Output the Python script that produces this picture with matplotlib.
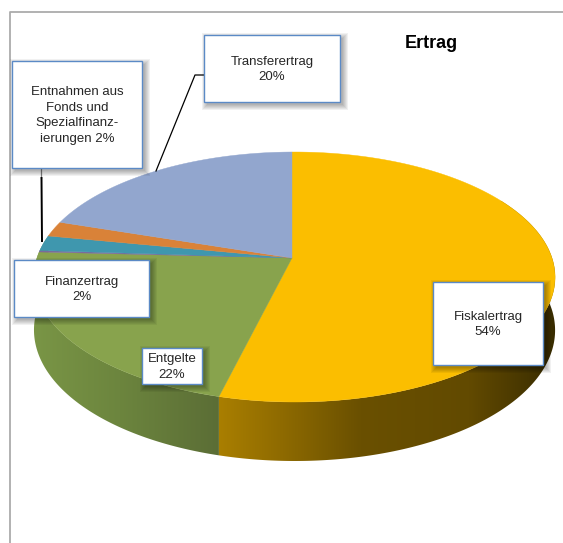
"""Ertrag - 3D-Kuchen, perspektivisch von Hand gezeichnet."""
import numpy as np
import matplotlib
matplotlib.use('Agg')
import matplotlib.pyplot as plt
from matplotlib.colors import LinearSegmentedColormap
from matplotlib.patches import Polygon, Rectangle

plt.rcParams['font.family'] = ['Liberation Sans', 'DejaVu Sans']

KATEGORIEN = ["Fiskalertrag", "Entgelte", "Sonstige", "Finanzertrag", "Entnahmen", "Transferertrag"]
WERTE = [53.9, 21.9, 0.2, 2.0, 2.0, 20.0]
FARBEN = ["#FBBE00", "#88A34D", "#7A6A9C", "#3F97AE", "#D98238", "#92A6CE"]

# Seitenflaechen: Position in Pixel / Farbe
GRUEN_X = [30, 120, 225]
GRUEN_C = ["#7A9646", "#6C853E", "#5A6C35"]
GELB_X = [208, 280, 360, 470, 530, 560]
GELB_C = ["#AE8200", "#8F6B00", "#6A5000", "#624A00", "#453500", "#352A00"]

TITEL = "Ertrag"
BOXEN = [
    ("Entnahmen aus\nFonds und\nSpezialfinanz-\nierungen 2%", 12, 61, 142, 168),
    ("Transferertrag\n20%", 204, 35, 340, 102),
    ("Finanzertrag\n2%", 14, 260, 149, 317),
    ("Entgelte\n22%", 142, 348, 202, 384),
    ("Fiskalertrag\n54%", 433, 282, 543, 365),
]

# Perspektive: Mitte und Ausdehnung in Pixel
CX, CY, A, B, K, M = 292, 258, 257.5, 122.1, 0.152, -0.0096


def punkte(w0, w1, tiefe=False):
    """Randpunkte zwischen w0 und w1 (Grad im Uhrzeigersinn ab oben)."""
    t = np.radians(np.linspace(w0, w1, 200))
    u, v = np.sin(t), np.cos(t)
    n = 1 + K * v + M * u
    x = CX + A * u / n
    y = CY - B * v / n
    if tiefe:
        y = y + 52 + 7 * np.clip(-v, 0, 1)
    return np.column_stack([x, y])


def seite(ax, w0, w1, xs, cols):
    oben = punkte(w0, w1)
    unten = punkte(w0, w1, True)
    poly = Polygon(np.vstack([oben, unten[::-1]]), closed=True, fc="none", ec="none")
    ax.add_patch(poly)
    pos = [(x - xs[0]) / (xs[-1] - xs[0]) for x in xs]
    cm = LinearSegmentedColormap.from_list("s", list(zip(pos, cols)))
    im = ax.imshow(np.linspace(0, 1, 256)[None, :], cmap=cm, aspect="auto", interpolation="bilinear",
                   extent=(xs[0], xs[-1], 480, 200), zorder=1)
    im.set_clip_path(poly)


fig = plt.figure(figsize=(5.63, 5.43), dpi=100, facecolor="white")
ax = fig.add_axes([0, 0, 1, 1])

# Rahmen
ax.plot([9.5, 9.5, 563], [543, 12, 12], color="#ABABAB", lw=1.3, zorder=0)

kum = np.concatenate([[0], np.cumsum(WERTE)]) * 3.6

# Seiten
seite(ax, 60, kum[1], GELB_X, GELB_C)
seite(ax, kum[1], kum[2] + 8, GRUEN_X, GRUEN_C)

# Deckflaeche
for i, farbe in enumerate(FARBEN):
    rand = punkte(kum[i], kum[i + 1])
    ax.add_patch(Polygon(np.vstack([[CX, CY], rand]), closed=True, fc=farbe, ec=farbe, lw=0.3, zorder=2))

# Fuehrungslinien
ax.plot([204, 195, 156], [75, 75, 171], color="black", lw=0.9, zorder=3)
ax.plot([41, 41], [168, 178], color="#808080", lw=0.9, zorder=3)
ax.plot([41.5, 42], [178, 241], color="black", lw=1.4, zorder=3)

# Beschriftungen mit weichem Schatten
for text, x0, y0, x1, y1 in BOXEN:
    for d in range(5, -1, -1):
        ax.add_patch(Rectangle((x0 + 3 - d, y0 + 3 - d), x1 - x0 + 2 * d, y1 - y0 + 2 * d,
                               fc="black", ec="none", alpha=0.055, zorder=4))
    ax.add_patch(Rectangle((x0, y0), x1 - x0, y1 - y0, fc="white", ec="#5B8AC6", lw=1.0, zorder=5))
    ax.text((x0 + x1) / 2, (y0 + y1) / 2 + 1, text, ha="center", va="center", fontsize=9.5,
            color="#262626", linespacing=1.42, zorder=6)

ax.text(431.5, 44, TITEL, ha="center", va="center", fontsize=13, fontweight="bold", color="black", zorder=6)

ax.set_xlim(0, 563)
ax.set_ylim(543, 0)
ax.axis("off")
fig.savefig("out.png", dpi=100)
